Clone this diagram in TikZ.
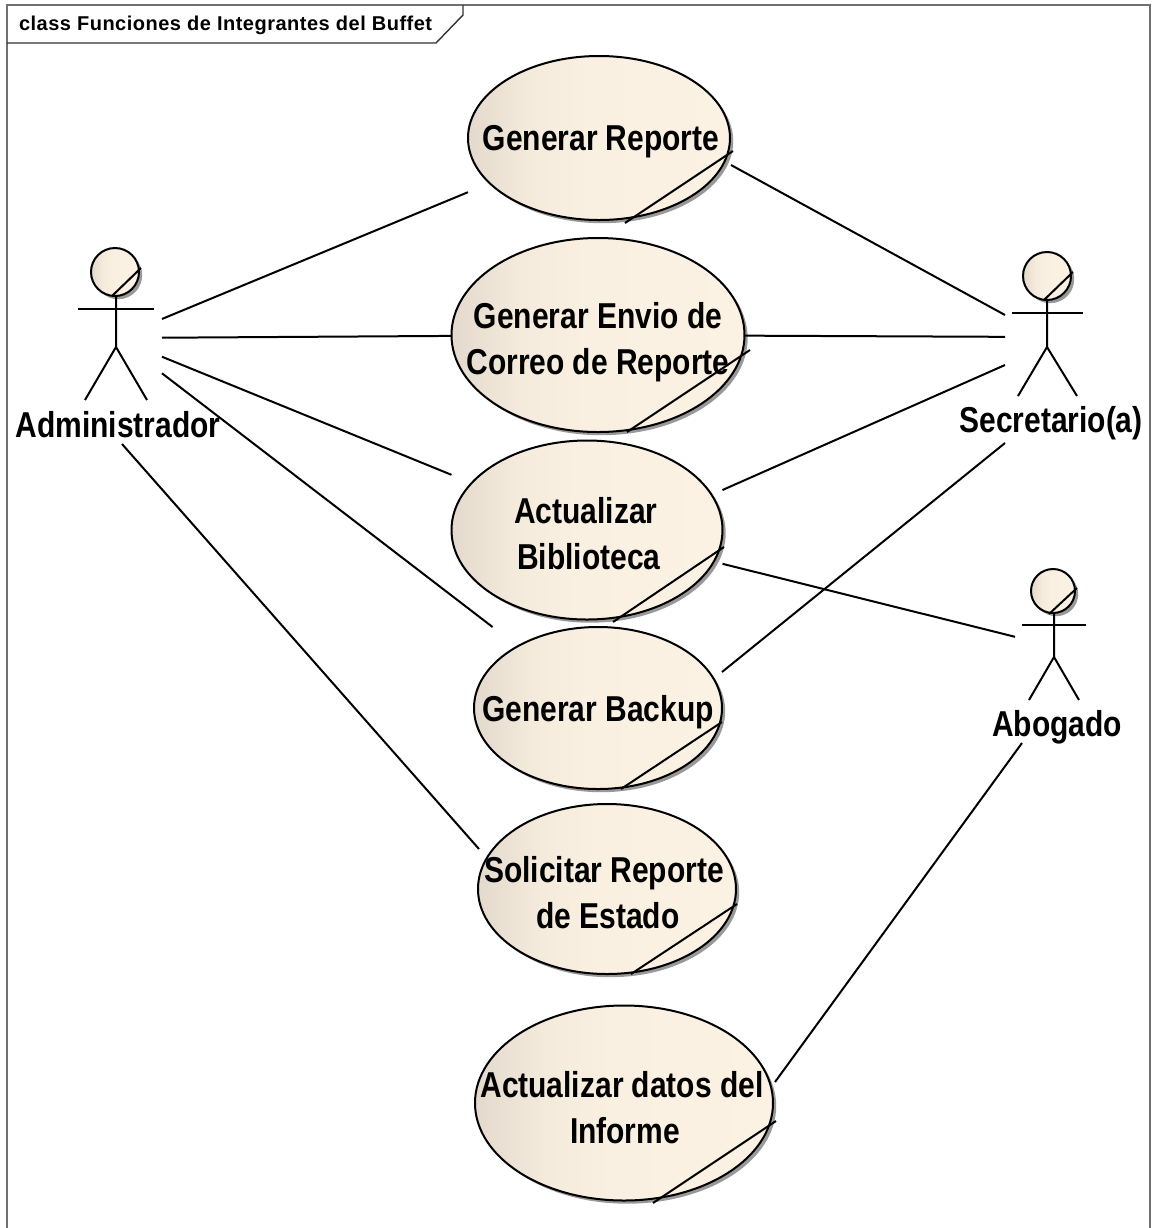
\documentclass[tikz,border=0pt]{standalone}
\usepackage{fontspec}
\setmainfont{Liberation Sans}
\newfontfamily\casefont[FakeStretch=0.833]{Liberation Sans}
\newfontfamily\titlefont[LetterSpace=2.5]{Liberation Sans}
\usetikzlibrary{shapes.geometric,shadows}
\definecolor{creamL}{HTML}{E3DACD}
\definecolor{creamN}{HTML}{F4EBDD}
\definecolor{creamM}{HTML}{F9F0E2}
\definecolor{creamR}{HTML}{FBF2E4}
\definecolor{marco}{HTML}{707070}
\pgfdeclarehorizontalshading{crema}{100bp}{color(0bp)=(creamL); color(25bp)=(creamL); color(37bp)=(creamN); color(48bp)=(creamM); color(75bp)=(creamR); color(100bp)=(creamR)}

\begin{document}
\begin{tikzpicture}[x=0.5pt, y=-0.5pt, line width=1pt,
  sombra/.style={drop shadow={shadow xshift=1.6pt, shadow yshift=-1.6pt, fill=black!40, opacity=1}},
  usecase/.style={ellipse, draw, shading=crema, sombra, inner sep=0pt, outer sep=0pt},
  casebox/.style={rectangle, inner sep=0pt, outer sep=0pt},
  casetext/.style={inner sep=0pt, align=center, yshift=-2pt, font=\casefont\bfseries\fontsize{18}{23}\selectfont},
  actorbox/.style={rectangle, inner sep=0pt, outer sep=0pt},
  head/.style={circle, draw, shading=crema, sombra, minimum size=24pt, inner sep=0pt, outer sep=0pt},
  etiqueta/.style={inner sep=0pt, font=\casefont\bfseries\fontsize{18}{23}\selectfont}]

  \useasboundingbox (0,0) rectangle (1152,1228);

  % frame and title tag
  \draw [marco] (7,1228) -- (7,5) -- (1150,5) -- (1150,1228);
  \draw [black!80, line width=0.7pt] (7,43) -- (436,43) -- (463,15) -- (463,5);
  \node [inner sep=0pt, anchor=west, font=\titlefont\bfseries\fontsize{10}{12}\selectfont] (titulo) at (18,25) {class Funciones de Integrantes del Buffet};

  % use cases
  \node [usecase, minimum width=131pt, minimum height=82pt, label={[casetext, xshift=1pt]center:Generar Reporte}] (reporteOval) at (599,138) {};
  \node [casebox, minimum width=131pt, minimum height=82pt] (reporte) at (reporteOval) {};
  \draw (reporteOval) +(26,85) -- +(134,13);

  \node [usecase, minimum width=146.5pt, minimum height=97pt, label={[casetext, yshift=-1.5pt]center:{Generar Envio de\\Correo de Reporte}}] (envioOval) at (598,335) {};
  \node [casebox, minimum width=146.5pt, minimum height=97pt] (envio) at (envioOval) {};
  \draw (envioOval) +(29,97) -- +(152,15);

  \node [usecase, minimum width=135.5pt, minimum height=89.5pt, label={[casetext, xshift=-0.5pt]center:{Actualizar\\\hspace*{3pt}Biblioteca}}] (bibliotecaOval) at (587,530) {};
  \node [casebox, minimum width=135.5pt, minimum height=89.5pt] (biblioteca) at (bibliotecaOval) {};
  \draw (bibliotecaOval) +(26,92) -- +(137,17);

  \node [usecase, minimum width=124pt, minimum height=81pt, label={[casetext]center:Generar Backup}] (backupOval) at (598,708) {};
  \node [casebox, minimum width=124pt, minimum height=81pt] (backup) at (backupOval) {};
  \draw (backupOval) +(23,81) -- +(124,14);

  \node [usecase, minimum width=129pt, minimum height=85pt, label={[casetext, xshift=-1.5pt]center:{Solicitar Reporte\\\hspace*{4pt}de Estado}}] (solicitarOval) at (607,889) {};
  \node [casebox, minimum width=129pt, minimum height=85pt] (solicitar) at (solicitarOval) {};
  \draw (solicitarOval) +(24,85) -- +(130,15);

  \node [usecase, minimum width=149pt, minimum height=97.5pt, label={[casetext, xshift=-1pt, yshift=-0.5pt]center:{Actualizar datos del\\\hspace*{3pt}Informe}}] (datosOval) at (624,1103) {};
  \node [casebox, minimum width=149pt, minimum height=97.5pt] (datos) at (datosOval) {};
  \draw (datosOval) +(29,100) -- +(152,18);

  % Administrador
  \node [actorbox, minimum width=46pt, minimum height=106pt] (admin) at (116,338) {};
  \node [head] (adminHead) at (115,272) {};
  \draw (adminHead) +(-3,24) -- +(26,-4);
  \draw (admin) +(0,-42) -- +(0,9) -- +(-31,62);
  \draw (admin) +(0,9) -- +(31,62);
  \draw (admin) +(-38,-29) -- +(38,-29);
  \node [etiqueta] (adminLabel) at (118,425) {Administrador};

  % Secretario
  \node [actorbox, minimum width=42pt, minimum height=106pt] (secre) at (1047,337) {};
  \node [head] (secreHead) at (1047,276) {};
  \draw (secreHead) +(-3,24) -- +(26,-4);
  \draw (secre) +(0,-37) -- +(0,10) -- +(-29,59);
  \draw (secre) +(0,10) -- +(30,59);
  \draw (secre) +(-35,-24) -- +(36,-24);
  \node [etiqueta] (secreLabel) at (1051,423) {Secretario(a)};

  % Abogado
  \node [actorbox, minimum width=37pt, minimum height=99pt] (abogado) at (1052,646) {};
  \node [head, minimum size=22pt] (abogadoHead) at (1053,591) {};
  \draw (abogadoHead) +(-4,23) -- +(24,-3);
  \draw (abogado) +(2,-33) -- +(2,11) -- +(-23,54);
  \draw (abogado) +(2,11) -- +(27,54);
  \draw (abogado) +(-30,-21) -- +(34,-21);
  \node [etiqueta] (abogadoLabel) at (1057,727) {Abogado};

  % connectors
  \draw (admin) -- (reporte);
  \draw (admin) -- (envio);
  \draw (admin) -- (biblioteca);
  \draw (admin) -- (backup);
  \draw ([xshift=3pt]admin.south) -- ([xshift=0.5pt,yshift=20pt]solicitar.west);

  \draw ([xshift=0.5pt,yshift=-13.5pt]reporte.east) -- ([yshift=11pt]secre.west);
  \draw (envio) -- (secre);
  \draw ([yshift=20pt]biblioteca.east) -- ([yshift=-14pt]secre.west);
  \draw ([yshift=18pt]backup.east) -- ([yshift=-53pt]secre.west);

  \draw (biblioteca) -- (abogado);
  \draw ([xshift=1pt,yshift=10.5pt]datos.east) -- ([xshift=-15pt,yshift=1pt]abogado.south);
\end{tikzpicture}
\end{document}
